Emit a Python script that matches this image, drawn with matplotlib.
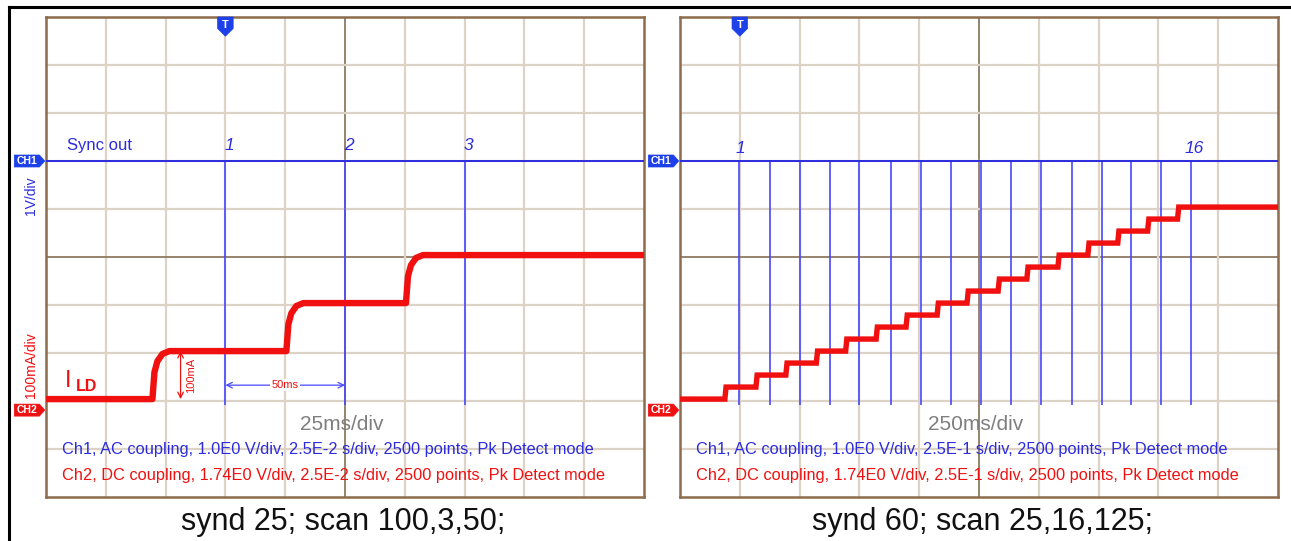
import matplotlib.pyplot as plt
import numpy as np
from matplotlib.lines import Line2D
from matplotlib.patches import Polygon

plt.rcParams['font.family'] = ['Liberation Sans', 'DejaVu Sans']

# --- data (x in divisions, levels in mA) ---
# left: synd 25; scan 100,3,50  (25 ms/div, 100 mA/div)
left_pulses = [3.0, 5.0, 7.0]
left_pulse_labels = ['1', '2', '3']
left_edges = [1.78, 4.02, 6.02]
left_levels = [0, 100, 200, 300]
rise_dt = [0.0, 0.033, 0.083, 0.167, 0.283]
rise_frac = [0.0, 0.56, 0.79, 0.94, 1.0]

# right: synd 60; scan 25,16,125  (250 ms/div, 100 mA/div)
right_pulses = [0.99, 1.50, 2.00, 2.50, 3.00, 3.53, 4.03, 4.53,
                5.03, 5.53, 6.03, 6.55, 7.05, 7.55, 8.05, 8.55]
right_edges = [0.75, 1.27, 1.77, 2.28, 2.77, 3.28, 3.78, 4.30,
               4.80, 5.32, 5.80, 6.32, 6.82, 7.32, 7.82, 8.32]
right_levels = [0, 25, 50, 75, 100, 125, 150, 175, 200,
                225, 250, 275, 300, 325, 350, 375, 400]

ch1_level = 7.0        # div
ch2_ground = 1.81      # div (marker)
trace_base = 2.04      # div
ma_per_div = 100.0

blue = '#2b2bdf'
pulse_blue = '#4848ff'
red = '#f01010'
grid_c = '#dcd2c6'
center_c = '#8e7a62'
border_c = '#8c6c4c'

W, H = 1291, 541
fig = plt.figure(figsize=(W / 100, H / 100), dpi=100)
fig.patch.set_facecolor('white')

# outer frame (top and left only)
fig.add_artist(Line2D([9 / W, 1], [1 - 7 / H, 1 - 7 / H], color='k', lw=2.2))
fig.add_artist(Line2D([9 / W, 9 / W], [0, 1 - 7 / H], color='k', lw=2.2))


def make_scope(left_px):
    ax = fig.add_axes([left_px / W, (H - 497) / H, 598 / W, 480 / H])
    ax.set_xlim(0, 10)
    ax.set_ylim(0, 10)
    for i in range(1, 10):
        c = center_c if i == 5 else grid_c
        lw = 1.3 if i == 5 else 1.6
        ax.axvline(i, color=c, lw=lw, zorder=0)
        ax.axhline(i, color=c, lw=lw, zorder=0)
    ax.set_xticks([])
    ax.set_yticks([])
    for s in ax.spines.values():
        s.set_color(border_c)
        s.set_linewidth(1.8)
    return ax


def ch_marker(ax, y, label, color):
    pts = [(-0.53, y - 0.125), (-0.11, y - 0.125), (-0.02, y),
           (-0.11, y + 0.125), (-0.53, y + 0.125)]
    ax.add_patch(Polygon(pts, closed=True, fc=color, ec=color, lw=0.5,
                         clip_on=False, zorder=5))
    ax.text(-0.31, y, label, color='white', fontsize=7.5, fontweight='bold',
            ha='center', va='center', clip_on=False, zorder=6)


def trig_marker(ax, x):
    pts = [(x - 0.13, 10), (x + 0.13, 10), (x + 0.13, 9.76),
           (x, 9.6), (x - 0.13, 9.76)]
    ax.add_patch(Polygon(pts, closed=True, fc='#1e40e8', ec='#1e40e8',
                         lw=0.5, zorder=5, clip_on=False))
    ax.text(x, 9.83, 'T', color='white', fontsize=8, fontweight='bold',
            ha='center', va='center', zorder=6)


def step_trace(edges, levels, dt, frac):
    xs, ys = [0.0], [trace_base + levels[0] / ma_per_div]
    for e, lo, hi in zip(edges, levels[:-1], levels[1:]):
        for d, f in zip(dt, frac):
            xs.append(e + d)
            ys.append(trace_base + (lo + f * (hi - lo)) / ma_per_div)
    xs.append(10.0)
    ys.append(ys[-1])
    return xs, ys


def info_lines(ax, tdiv, sdiv):
    ax.text(0.27, 0.98, f'Ch1, AC coupling, 1.0E0 V/div, {sdiv} s/div, '
            '2500 points, Pk Detect mode', color=blue, fontsize=11.8,
            va='center', ha='left', zorder=4)
    ax.text(0.27, 0.44, f'Ch2, DC coupling, 1.74E0 V/div, {sdiv} s/div, '
            '2500 points, Pk Detect mode', color=red, fontsize=11.8,
            va='center', ha='left', zorder=4)
    ax.text(4.95, 1.5, tdiv, color='#7f7f7f', fontsize=15,
            ha='center', va='center', zorder=4)


# ---------------- left scope ----------------
ax1 = make_scope(46)
ax1.plot([0, 10], [ch1_level, ch1_level], color=blue, lw=1.4, zorder=3)
ax1.vlines(left_pulses, 1.92, ch1_level, color=pulse_blue, lw=1.2, zorder=2)
xs, ys = step_trace(left_edges, left_levels, rise_dt, rise_frac)
ax1.plot(xs, ys, color=red, lw=4.6, solid_joinstyle='round', zorder=3)
for x, lab in zip(left_pulses, left_pulse_labels):
    ax1.text(x + 0.07, ch1_level + 0.33, lab, color=blue, fontsize=12.5,
             style='italic', ha='center', va='center')
ax1.text(0.9, ch1_level + 0.33, 'Sync out', color=blue, fontsize=12,
         ha='center', va='center')
trig_marker(ax1, 3.0)
ch_marker(ax1, ch1_level, 'CH1', '#1e40e8')
ch_marker(ax1, ch2_ground, 'CH2', '#ee1111')
ax1.text(-0.25, 6.27, '1V/div', color=blue, fontsize=10, rotation=90,
         ha='center', va='center', clip_on=False)
ax1.text(-0.25, 2.75, '100mA/div', color=red, fontsize=10, rotation=90,
         ha='center', va='center', clip_on=False)
ax1.text(0.37, 2.42, 'I', color=red, fontsize=17, ha='center', va='center')
ax1.text(0.67, 2.3, 'LD', color=red, fontsize=11.5, fontweight='bold',
         ha='center', va='center')
ax1.annotate('', xy=(2.25, trace_base + 1.0), xytext=(2.25, trace_base),
             arrowprops=dict(arrowstyle='<->', color=red, lw=0.9,
                             shrinkA=0, shrinkB=0))
ax1.text(2.42, 2.54, '100mA', color=red, fontsize=8, rotation=90,
         ha='center', va='center')
ax1.annotate('', xy=(3.0, 2.33), xytext=(5.0, 2.33),
             arrowprops=dict(arrowstyle='<->', color=pulse_blue, lw=0.9,
                             shrinkA=0, shrinkB=0))
ax1.text(4.0, 2.33, '50ms', color=red, fontsize=8, ha='center',
         va='center', bbox=dict(fc='white', ec='none', pad=1))
info_lines(ax1, '25ms/div', '2.5E-2')

# ---------------- right scope ----------------
ax2 = make_scope(680)
ax2.plot([0, 10], [ch1_level, ch1_level], color=blue, lw=1.4, zorder=3)
ax2.vlines(right_pulses, 1.92, ch1_level, color=pulse_blue, lw=1.2, zorder=2)
xs, ys = step_trace(right_edges, right_levels, [0.0, 0.02], [0.0, 1.0])
ax2.plot(xs, ys, color=red, lw=3.9, solid_joinstyle='miter', zorder=3)
ax2.text(right_pulses[0] + 0.02, ch1_level + 0.27, '1', color=blue,
         fontsize=12.5, style='italic', ha='center', va='center')
ax2.text(right_pulses[-1] + 0.05, ch1_level + 0.27, '16', color=blue,
         fontsize=12.5, style='italic', ha='center', va='center')
trig_marker(ax2, 1.0)
ch_marker(ax2, ch1_level, 'CH1', '#1e40e8')
ch_marker(ax2, ch2_ground, 'CH2', '#ee1111')
info_lines(ax2, '250ms/div', '2.5E-1')

# captions
fig.text(343 / W, 1 - 522 / H, 'synd 25; scan 100,3,50;', fontsize=22,
         ha='center', va='center', color='#111111')
fig.text(982 / W, 1 - 522 / H, 'synd 60; scan 25,16,125;', fontsize=22,
         ha='center', va='center', color='#111111')

fig.savefig('out.png', dpi=100)
